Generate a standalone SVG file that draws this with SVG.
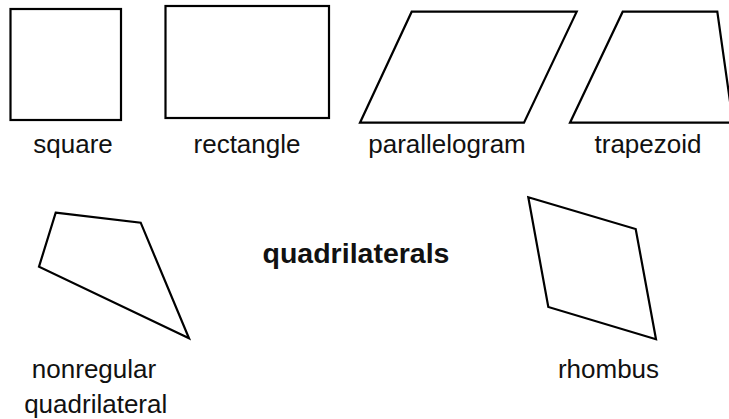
<svg xmlns="http://www.w3.org/2000/svg" width="729" height="419" viewBox="0 0 729 419">
<style>
.s{fill:none;stroke:#000;stroke-width:2.2;stroke-linejoin:miter}
.t{font-family:"Liberation Sans",Arial,sans-serif;font-size:26px;fill:#111;text-anchor:middle}
.b{font-weight:bold;font-size:28.5px}
</style>
<rect width="729" height="419" fill="#fff"/>
<g id="square"><rect class="s" x="10.5" y="9" width="110.5" height="111"/><text class="t" x="73" y="153">square</text></g>
<g id="rectangle"><rect class="s" x="165.5" y="6" width="163.5" height="112"/><text class="t" x="247" y="153">rectangle</text></g>
<g id="parallelogram"><polygon class="s" points="411.7,11.7 576.7,11.7 524,122.7 360,122.7"/><text class="t" x="447" y="153">parallelogram</text></g>
<g id="trapezoid"><polygon class="s" points="622.7,11.7 717.3,11.7 733,122.7 570,122.7"/><text class="t" x="648" y="153">trapezoid</text></g>
<g id="title"><text class="t b" x="356" y="263">quadrilaterals</text></g>
<g id="nonregular"><polygon class="s" points="55.7,212.7 140.7,222.7 189,338.3 39,266.7"/><text class="t" x="94" y="378">nonregular</text><text class="t" x="95.7" y="413">quadrilateral</text></g>
<g id="rhombus"><polygon class="s" points="528.3,197.3 635.7,229 656,339.3 548.3,307"/><text class="t" x="608.5" y="378">rhombus</text></g>
<g id="connectors"></g>
</svg>
